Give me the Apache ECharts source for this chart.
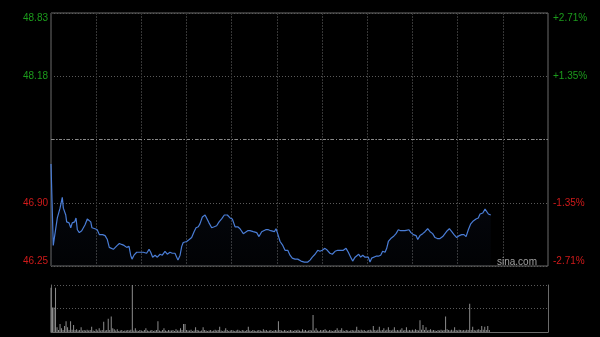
<!DOCTYPE html>
<html><head><meta charset="utf-8">
<script src="https://cdn.jsdelivr.net/npm/echarts@6/dist/echarts.min.js"></script>
<style>html,body{margin:0;padding:0;background:#000;}#c{width:600px;height:337px;}</style>
</head><body><div id="c"></div>
<script>
const minutes = [
0,1.5,2,4.2,6,7.5,8.2,9.1,9.8,10.4,
12,13.1,14.1,15.7,16.6,17.5,18.8,20.4,21.4,22.6,
24.1,25.2,26.4,27.2,29.2,30.7,32.1,33,34.3,35.9,
37.4,38.7,40,41.4,42.7,44,45.4,46.9,48.5,50.3,
51.8,52.9,53.8,55.1,56.9,58.6,61.3,63.5,65.1,66.2,
67.5,69.1,70.6,72.4,73.9,75.7,77.2,79,80.5,82.3,
83.5,84.3,85.7,86.8,87.8,90.1,91.8,93.4,95,96.3,
97.8,98.9,100.5,102.3,103.6,104.9,106.7,108.4,110,111.6,
113.3,115.1,117.1,118.9,120.4,121.3,122.2,124,125.5,127.7,
128.8,130.6,132.1,134.3,136.6,138.1,139.9,141,142.6,144.3,
145.9,146.9,148.3,149.4,150.5,152.1,153.9,155.4,157.2,158.7,
160.2,162,163.8,166,168.2,170.5,172,173.5,175.3,177.1,
178.6,180.1,181.9,183.5,185.2,186.8,188.6,190.4,191.9,194.1,
195.9,197.4,199,200.3,201.9,203,204.3,205.6,207,208.5,
209.6,210.7,211.8,212.9,214,215.8,217.3,218.9,220.2,221.8,
222.9,224,225.6,227.3,229.1,230.6,232.2,233.5,235,236.2,
237.7,239,240.6,242.4,243.5,245,246.8,248.3,250.1,251.7,
253.4,255,256.5,258.3,260.1,261.6,263.1,264.5,266.1,267.6,
269.4,271.1,272.7,274.2,275.6,277.1,278.7,280.4,282.2,283.7,
284.9,286.7,288.2,289.3,290.4,292];
const prices = [
47.29,46.46,46.45,46.74,46.84,46.95,46.84,46.84,46.77,46.70,
46.69,46.64,46.69,46.70,46.74,46.62,46.59,46.61,46.63,46.67,
46.73,46.75,46.70,46.64,46.63,46.62,46.57,46.59,46.57,46.56,
46.52,46.44,46.46,46.42,46.40,46.46,46.48,46.47,46.46,46.44,
46.45,46.36,46.32,46.36,46.39,46.39,46.39,46.38,46.42,46.39,
46.34,46.36,46.34,46.37,46.36,46.40,46.37,46.39,46.38,46.38,
46.36,46.31,46.36,46.45,46.49,46.50,46.52,46.54,46.60,46.64,
46.65,46.68,46.75,46.77,46.75,46.69,46.64,46.65,46.66,46.70,
46.73,46.77,46.77,46.74,46.73,46.69,46.65,46.65,46.63,46.58,
46.56,46.61,46.61,46.60,46.59,46.55,46.60,46.62,46.62,46.62,
46.61,46.63,46.60,46.63,46.58,46.50,46.46,46.41,46.41,46.36,
46.33,46.32,46.32,46.30,46.29,46.29,46.31,46.34,46.37,46.41,
46.40,46.41,46.43,46.41,46.38,46.37,46.40,46.41,46.41,46.41,
46.43,46.39,46.34,46.30,46.34,46.36,46.37,46.34,46.36,46.34,
46.36,46.34,46.29,46.33,46.35,46.35,46.35,46.36,46.40,46.39,
46.43,46.50,46.53,46.55,46.58,46.62,46.61,46.62,46.61,46.62,
46.62,46.59,46.57,46.56,46.52,46.56,46.58,46.60,46.63,46.60,
46.58,46.54,46.53,46.53,46.55,46.58,46.61,46.63,46.60,46.57,
46.54,46.56,46.57,46.57,46.55,46.62,46.68,46.71,46.73,46.74,
46.78,46.79,46.83,46.81,46.78,46.77];
const volumes = [
94,52,52,94,10,4,17,8,4,13,
23,10,4,23,5,15,4,6,3,4,
10,3,4,3,5,3,4,11,3,2,
6,3,8,3,4,22,3,4,28,4,
33,8,6,3,6,2,3,4,2,3,
3,4,3,5,100,3,8,3,2,4,
3,2,4,8,3,2,3,4,2,3,
4,23,3,2,4,8,3,2,4,3,
3,4,2,6,3,3,8,4,17,17,
4,3,3,5,2,3,10,4,3,2,
3,10,4,3,2,3,4,2,3,5,
3,4,11,3,2,3,8,4,2,3,
4,3,2,3,5,3,2,4,3,2,
4,11,3,2,4,3,2,3,4,3,
2,6,3,4,2,3,4,2,3,4,
3,23,4,3,2,4,3,2,3,4,
3,2,4,3,5,3,2,6,3,4,
2,3,4,3,36,3,8,3,2,4,
3,4,6,3,2,4,3,2,3,4,
8,3,4,8,3,2,4,3,2,3,
4,3,3,11,4,3,5,3,4,2,
3,4,5,3,13,4,3,5,11,3,
4,8,3,5,10,4,3,5,10,3,
4,3,5,8,3,4,10,3,4,3,
5,3,6,4,3,25,5,15,4,10,
3,4,6,3,4,3,2,4,3,5,
3,4,33,6,4,3,5,3,10,4,
3,5,4,3,4,3,5,4,60,4,
11,4,3,5,6,4,13,5,11,4,
13,4];
const priceTickLabels = ['46.25','46.90','','48.18','48.83'];
const pctTickLabels = ['-2.71%','-1.35%','','+1.35%','+2.71%'];
const prevClose = 47.54;
const priceMin = 46.25, priceMax = 48.83;
const pctMin = -2.71, pctMax = 2.71;
const sessionMinutes = 330;

const pctInterval = (pctMax - pctMin) / 4;
const UP = '#1c9c1c', DOWN = '#d01a1a';
const FONT = '"Liberation Sans", Arial, sans-serif';

function labelAxis(position, labels, margin) {
  return {gridIndex: 0, type: 'value', min: pctMin, max: pctMax, interval: pctInterval, position: position,
    axisLine: {show: false}, axisTick: {show: false},
    axisLabel: {
      fontSize: 10, fontFamily: FONT, margin: margin,
      formatter: function (v) { return labels[Math.round((v - pctMin) / pctInterval)]; },
      color: function (v) { return v > 0 ? UP : DOWN; },
      verticalAlignMinLabel: 'bottom', verticalAlignMaxLabel: 'top'
    },
    splitLine: {show: position === 'left', lineStyle: {color: '#5a5a5a', type: [1, 2]}}};
}

const chart = echarts.init(document.getElementById('c'), null, {renderer: 'canvas'});
chart.setOption({
  backgroundColor: '#000',
  animation: false,
  grid: [
    {left: 51, right: 52, top: 13, height: 253, show: true, borderColor: '#6a6a6a', borderWidth: 1, backgroundColor: 'transparent'},
    {left: 51, right: 52, top: 285, height: 47}
  ],
  xAxis: [
    {gridIndex: 0, type: 'value', min: 0, max: sessionMinutes, interval: 30,
     axisLine: {show: false}, axisTick: {show: false}, axisLabel: {show: false},
     splitLine: {show: true, lineStyle: {color: '#363636', type: [2, 1], width: 1}}},
    {gridIndex: 1, type: 'value', min: 0, max: sessionMinutes,
     axisLine: {show: true, onZero: false, lineStyle: {color: '#6a6a6a'}}, axisTick: {show: false}, axisLabel: {show: false},
     splitLine: {show: false}}
  ],
  yAxis: [
    {gridIndex: 0, type: 'value', min: priceMin, max: priceMax, show: false},
    labelAxis('left', priceTickLabels, 3),
    labelAxis('right', pctTickLabels, 5),
    {gridIndex: 1, type: 'value', min: 0, max: 100, interval: 50, position: 'left',
     axisLine: {show: true, lineStyle: {color: '#6a6a6a'}}, axisTick: {show: false}, axisLabel: {show: false},
     splitLine: {show: true, lineStyle: {color: '#5a5a5a', type: [1, 2]}}},
    {gridIndex: 1, type: 'value', min: 0, max: 100, position: 'right',
     axisLine: {show: true, lineStyle: {color: '#6a6a6a'}}, axisTick: {show: false}, axisLabel: {show: false},
     splitLine: {show: false}}
  ],
  series: [
    {
      type: 'line', xAxisIndex: 0, yAxisIndex: 0,
      data: minutes.map(function (m, i) { return [m, prices[i]]; }),
      showSymbol: false, smooth: false,
      lineStyle: {color: '#4a7dd6', width: 1.2},
      areaStyle: {origin: 'start', color: new echarts.graphic.LinearGradient(0, 0, 0, 1, [
        {offset: 0, color: 'rgba(50,80,150,0.16)'}, {offset: 1, color: 'rgba(50,80,150,0.04)'}])},
      markLine: {
        silent: true, symbol: 'none', label: {show: false},
        lineStyle: {color: '#8a8a8a', type: [3, 2, 1, 2], width: 1},
        data: [{yAxis: prevClose}]
      }
    },
    {
      type: 'bar', xAxisIndex: 1, yAxisIndex: 3,
      data: volumes.map(function (v, i) { return [i, v]; }),
      barWidth: 1, itemStyle: {color: '#8c8c8c'}
    }
  ],
  graphic: [
    {type: 'text', silent: true, z: 10,
     style: {text: 'sina.com', x: 537, y: 262, align: 'right', verticalAlign: 'middle', fill: '#a0a0a0', font: '10px ' + FONT}}
  ]
});
</script>
</body></html>
